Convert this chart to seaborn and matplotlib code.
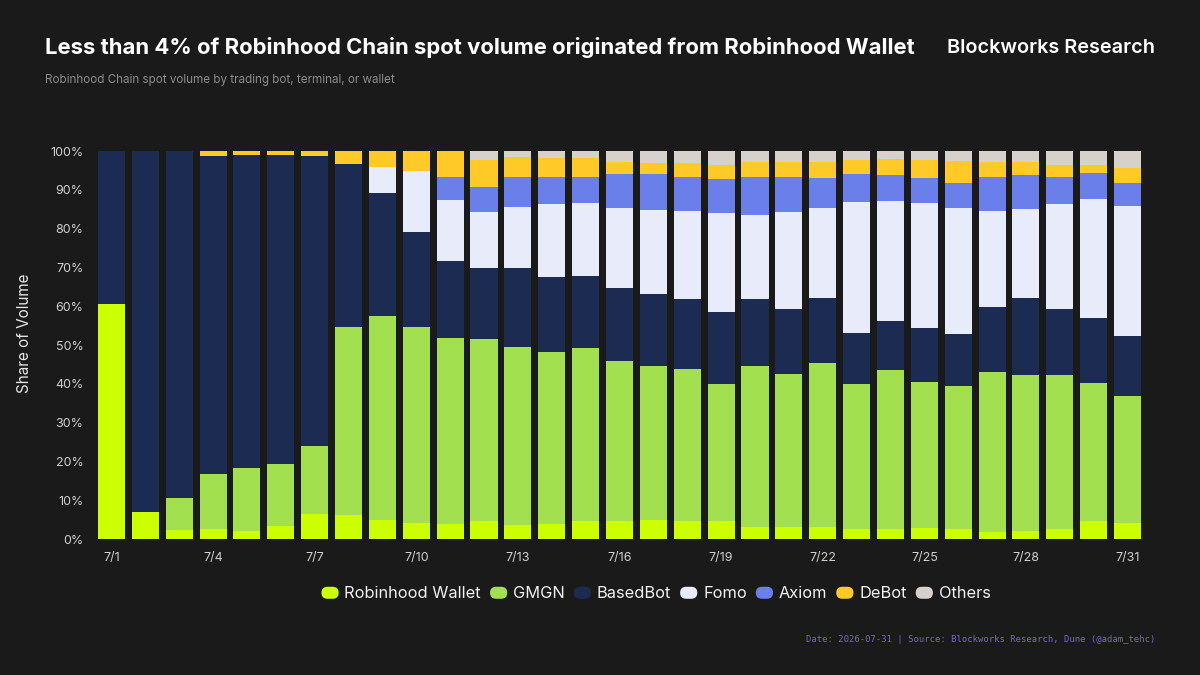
import numpy as np
import pandas as pd
import matplotlib
matplotlib.use("Agg")
import matplotlib.pyplot as plt
import seaborn as sns
from matplotlib.patches import FancyBboxPatch, Patch
from matplotlib.legend_handler import HandlerPatch

# ---------------- data ----------------
days = ["7/1", "7/2", "7/3", "7/4", "7/5", "7/6", "7/7", "7/8", "7/9", "7/10",
        "7/11", "7/12", "7/13", "7/14", "7/15", "7/16", "7/17", "7/18", "7/19", "7/20",
        "7/21", "7/22", "7/23", "7/24", "7/25", "7/26", "7/27", "7/28", "7/29", "7/30", "7/31"]
tick_labels = ["7/1", "7/4", "7/7", "7/10", "7/13", "7/16", "7/19", "7/22", "7/25", "7/28", "7/31"]

robinhood_wallet = [60.6, 6.9, 2.3, 2.5, 2.1, 3.4, 6.4, 6.2, 4.9, 4.0, 3.9, 4.6, 3.6, 3.9, 4.6, 4.6,
                    4.9, 4.7, 4.7, 3.0, 3.0, 3.2, 2.5, 2.5, 2.9, 2.5, 1.7, 2.1, 2.5, 4.6, 4.2]
gmgn = [0.0, 0.0, 8.3, 14.2, 16.2, 15.9, 17.5, 48.4, 52.7, 50.6, 48.0, 46.9, 45.8, 44.2, 44.5, 41.4,
        39.8, 39.2, 35.2, 41.7, 39.5, 42.2, 37.5, 41.1, 37.5, 36.9, 41.3, 40.1, 39.7, 35.7, 32.7]
basedbot = [39.4, 93.1, 89.4, 82.1, 80.7, 79.7, 74.9, 42.0, 31.7, 24.4, 19.7, 18.4, 20.5, 19.5, 18.7, 18.6,
            18.5, 18.0, 18.6, 17.2, 16.8, 16.6, 13.0, 12.7, 14.1, 13.4, 16.7, 19.8, 17.0, 16.6, 15.4]
fomo = [0.0, 0.0, 0.0, 0.0, 0.0, 0.0, 0.0, 0.0, 6.7, 15.9, 15.9, 14.3, 15.7, 18.7, 18.8, 20.6,
        21.6, 22.6, 25.4, 21.5, 24.9, 23.2, 33.9, 30.9, 32.2, 32.6, 24.9, 23.1, 27.1, 30.7, 33.6]
axiom = [0.0, 0.0, 0.0, 0.0, 0.0, 0.0, 0.0, 0.0, 0.0, 0.0, 5.9, 6.6, 7.8, 6.9, 6.8, 8.8,
         9.2, 8.9, 8.8, 9.8, 9.2, 7.8, 7.1, 6.6, 6.4, 6.4, 8.6, 8.7, 7.1, 6.7, 5.9]
debot = [0.0, 0.0, 0.0, 1.2, 1.0, 1.0, 1.2, 3.4, 4.0, 5.1, 6.6, 6.9, 5.0, 4.9, 4.7, 3.2,
         2.8, 3.4, 3.7, 3.9, 3.7, 4.2, 3.7, 4.1, 4.6, 5.5, 4.0, 3.4, 3.0, 2.1, 3.9]
others = [0.0, 0.0, 0.0, 0.0, 0.0, 0.0, 0.0, 0.0, 0.0, 0.0, 0.0, 2.3, 1.6, 1.9, 1.9, 2.8,
          3.2, 3.2, 3.6, 2.9, 2.9, 2.8, 2.3, 2.1, 2.3, 2.7, 2.8, 2.8, 3.6, 3.6, 4.3]

series_names = ["Robinhood Wallet", "GMGN", "BasedBot", "Fomo", "Axiom", "DeBot", "Others"]
series_values = [robinhood_wallet, gmgn, basedbot, fomo, axiom, debot, others]
series_colors = ["#CCFF00", "#A3E04F", "#1B2B52", "#E8EBFA", "#6B7FEB", "#FFC928", "#D6D1CA"]

# ---------------- style ----------------
BG = "#1A1A1A"
sns.set_theme(style="dark")
plt.rcParams["font.family"] = ["Inter", "DejaVu Sans"]

fig = plt.figure(figsize=(12, 6.75), dpi=100, facecolor=BG)
W, H = 1200, 675
ax = fig.add_axes([94.5 / W, 1 - 539 / H, (1144.5 - 94.5) / W, (539 - 151) / H])
ax.set_facecolor(BG)

cum = np.zeros(len(days))
cums = []
for vals in series_values:
    cum = cum + np.array(vals)
    cums.append(cum.copy())

# draw from the top layer down so each lower layer overlays the one above
for name, color, c in reversed(list(zip(series_names, series_colors, cums))):
    d = pd.DataFrame({"day": days, "value": c})
    sns.barplot(data=d, x="day", y="value", order=days, color=color, saturation=1,
                width=0.8, linewidth=0, ax=ax, errorbar=None)

ax.set_ylim(0, 100)
ax.set_xlim(-0.5, len(days) - 0.5)
ax.set_yticks(np.arange(0, 101, 10))
ax.set_yticklabels([f"{v}%" for v in range(0, 101, 10)])
ax.set_xticks([days.index(t) for t in tick_labels])
ax.set_xticklabels(tick_labels)
ax.tick_params(axis="both", length=0, colors="#CFCFCF", labelsize=9)
ax.tick_params(axis="y", pad=8)
ax.tick_params(axis="x", pad=9)
ax.set_xlabel("")
ax.set_ylabel("")
ax.grid(False)
for s in ax.spines.values():
    s.set_visible(False)

fig.text(25 / W, 1 - 333 / H, "Share of Volume", rotation=90, ha="center", va="center",
         color="#E6E6E6", fontsize=11)

# ---------------- titles ----------------
fig.text(45 / W, 1 - 54 / H,
         "Less than 4% of Robinhood Chain spot volume originated from Robinhood Wallet",
         ha="left", va="baseline", color="white", fontsize=15.9, fontweight="bold")
fig.text(45 / W, 1 - 83 / H, "Robinhood Chain spot volume by trading bot, terminal, or wallet",
         ha="left", va="baseline", color="#8C8C8C", fontsize=8.4)
fig.text(1155 / W, 1 - 53 / H, "Blockworks Research", ha="right", va="baseline",
         color="white", fontsize=14.3, fontweight="semibold")
fig.text(1155 / W, 1 - 642 / H,
         "Date: 2026-07-31 | Source: Blockworks Research, Dune (@adam_tehc)",
         ha="right", va="baseline", color="#7367D0", fontsize=6.4, family="DejaVu Sans Mono")


# ---------------- legend ----------------
class HandlerPill(HandlerPatch):
    def create_artists(self, legend, orig_handle, xdescent, ydescent, width, height, fontsize, trans):
        p = FancyBboxPatch((-xdescent, -ydescent), width, height,
                           boxstyle=f"round,pad=0,rounding_size={height / 2}",
                           facecolor=orig_handle.get_facecolor(), edgecolor="none",
                           transform=trans)
        return [p]


handles = [Patch(facecolor=c, label=n) for n, c in zip(series_names, series_colors)]
leg = fig.legend(handles=handles, loc="center", bbox_to_anchor=(656 / W, 1 - 594 / H),
                 ncol=7, frameon=False, fontsize=11.8, handlelength=1.05, handleheight=0.75,
                 handletextpad=0.35, columnspacing=0.55,
                 handler_map={Patch: HandlerPill()})
for t in leg.get_texts():
    t.set_color("#F2F2F2")

fig.savefig("out.png", dpi=100, facecolor=BG)
